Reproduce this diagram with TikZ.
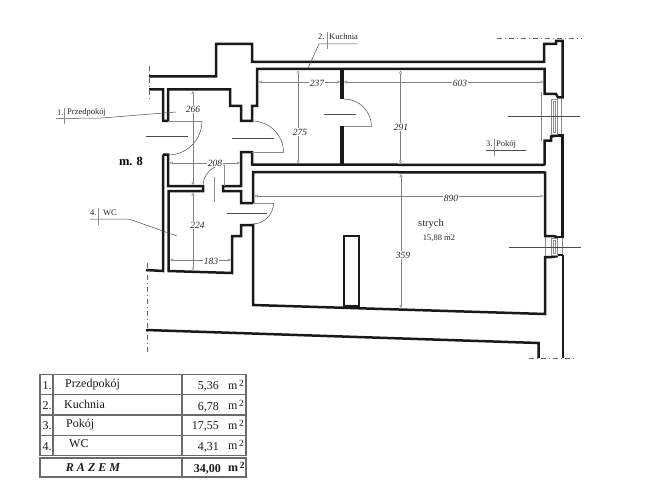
\documentclass[tikz,border=0pt]{standalone}
\usepackage{fontspec}
\setmainfont{Liberation Serif}
\usetikzlibrary{arrows.meta}
\definecolor{dimc}{gray}{0.5}
\definecolor{tabc}{gray}{0.42}
\tikzset{
  wall/.style={line width=2.5pt,line join=miter,black!90},
  thickwall/.style={line width=4.4pt,black!90},
  thin1/.style={line width=0.5pt,black!70},
  faint/.style={line width=0.45pt,black!45},
  dimline/.style={line width=0.45pt,dimc,{Triangle[open,length=3pt,width=3pt,fill=white]}-{Triangle[open,length=3pt,width=3pt,fill=white]}},
  dimlabel/.style={font=\fontsize{9.5}{10}\selectfont\itshape,fill=white,inner sep=0.8pt,text=black!85},
  note/.style={font=\fontsize{8.5}{9}\selectfont,inner sep=0pt,text=black!85},
  cell/.style={font=\fontsize{12}{12}\selectfont,inner sep=0pt,text=black!90},
  grid/.style={line width=1.1pt,tabc},
  axisdash/.style={line width=0.6pt,black!60,dash pattern=on 5pt off 3pt on 1pt off 3pt}
}
\newcommand{\sqm}{m\raisebox{0.55ex}{\fontsize{9.5}{10}\selectfont\,2}}
\begin{document}
\begin{tikzpicture}[x=1pt,y=-1pt]
\useasboundingbox (0,0) rectangle (650,500);
% walls
\draw[wall] (149,76.5) -- (216,76.5) -- (216,44) -- (252,44) -- (252,62) -- (544,62) -- (544,44) -- (556,44) -- (556,41) -- (562.5,41) -- (562.5,97.5) -- (558,97.5) -- (556,94) -- (544.5,94) -- (544.5,69) -- (257,69) -- (257,106) -- (252,106) -- (252,121) -- (241,121) -- (241,106) -- (230,106) -- (230,89.5) -- (168,89.5) -- (168,121) -- (163,121) -- (163,89.5) -- (149,89.5);
\draw[wall] (544.5,165) -- (544.5,140.5) -- (551,140.5) -- (551,136.5) -- (558,135.5);
\draw[wall] (558,135.5) -- (562.5,135.5) -- (562.5,237) -- (557,237);
\draw[wall] (163,154.5) -- (168,154.5) -- (168,186) -- (203,186) -- (203,191) -- (168.5,191) -- (168.5,271) -- (232,273) -- (232,236) -- (241,236) -- (241,225) -- (253,225) -- (253,305) -- (545,314) -- (545,257) -- (552,257) -- (558,256);
\draw[wall] (163,154.5) -- (163,271) -- (146,270);
\draw[wall] (253,203) -- (241,203) -- (241,191) -- (223,191) -- (223,186) -- (241,186) -- (241,152) -- (252,152) -- (252,164.5) -- (544.5,165);
\draw[wall] (253,203) -- (253,172) -- (545,172.5) -- (545,236) -- (553,236) -- (557,237);
\draw[wall] (563,255) -- (563,358);
\draw[wall] (558,255) -- (563,255);
\draw[wall] (146,330) -- (538.5,343) -- (538.5,358);
\draw[thickwall] (342,69) -- (342,99);
\draw[thickwall] (342,126) -- (342,165);
% chimney
\draw[wall,line width=2pt] (343.5,307) -- (343.5,236) -- (359,236) -- (359,308);
\draw[line width=2.5pt,black!90] (343.5,306) -- (359,306.5);
% doors
\draw[thin1] (202,121) arc[start angle=0,end angle=90,radius=34];
\draw[faint] (168,121) -- (202,121);
\draw[thin1] (146,136) -- (188,136);
\draw[thin1] (252,121) arc[start angle=-90,end angle=0,radius=31.5];
\draw[faint] (252,152.5) -- (283.5,152.5);
\draw[thin1] (232,138) -- (274,138);
\draw[thin1] (344,99) arc[start angle=-90,end angle=0,radius=27.5];
\draw[faint] (344,126.5) -- (371.5,126.5);
\draw[thin1] (324,114) -- (356,114);
\draw[thin1] (273.5,203) arc[start angle=0,end angle=90,radius=21];
\draw[faint] (253,203) -- (273.5,203);
\draw[thin1] (227,213) -- (267,213);
\draw[thin1] (203,186) arc[start angle=180,end angle=270,radius=21];
\draw[faint] (224,165) -- (224,186);
\draw[faint] (214,177) -- (214,202);
% windows
\draw[faint] (541.5,92) -- (541.5,141);
\draw[faint] (551,99) rectangle (557,134);
\draw[faint] (553,101) rectangle (555,132);
\draw[faint] (561.5,99) -- (561.5,134);
\draw[thin1] (508,116.5) -- (580,116.5);
\draw[faint] (545,237) -- (545,256);
\draw[faint] (551,238) rectangle (557,255);
\draw[faint] (553,240) rectangle (555,253);
\draw[faint] (562,238) -- (562,254);
\draw[thin1] (509,247) -- (581,247);
% axis marks
\draw[axisdash] (149,66) -- (149,100);
\draw[axisdash] (497,38.5) -- (582,38.5);
\draw[axisdash] (147,263) -- (147,354);
\draw[axisdash] (529,358) -- (574,358);
% dimensions
\foreach \na/\xa/\ya/\nb/\xb/\yb/\txt/\lx/\ly in {%
 a/193/91/b/193/185/266/193/109,%
 c/169.5/163/d/240/163/208/215/163,%
 e/193/192.5/f/193/270.5/224/197.5/225,%
 g/170/260/h/231/260/183/211/261,%
 i/258.5/82/j/340/82/237/317/83,%
 k/298/70.5/l/298/163.5/275/300/132,%
 m/400.5/70.5/n/400.5/163.5/291/401/127,%
 o/344/82/p/543.5/82/603/460/83,%
 q/254.5/196/r/543.5/196/890/451/198,%
 s/401/174/t/401/308/359/403/255}{
  \coordinate (\na) at (\xa,\ya);
  \coordinate (\nb) at (\xb,\yb);
  \draw[dimline] (\na) -- (\nb);
  \node[dimlabel] at (\lx,\ly) {\txt};
}
% leaders
\node[note,anchor=west] (lab1) at (57,113) {1.};
\node[note,anchor=west] (name1) at (67,112) {Przedpokój};
\draw[thin1] (56,118.5) -- (102,118) -- (176,112);
\draw[faint] (64,108) -- (64,124);
\node[note,anchor=west] (lab2) at (318,37) {2.};
\node[note,anchor=west] (name2) at (329,36.5) {Kuchnia};
\draw[thin1] (357,44) -- (319,44) -- (308,68);
\draw[faint] (327,32) -- (327,49);
\node[note,anchor=west] (lab3) at (486,144) {3.};
\node[note,anchor=west] (name3) at (496,144) {Pokój};
\draw[thin1] (486,150) -- (526,150);
\draw[faint] (494,139) -- (494,156);
\node[note,anchor=west] (lab4) at (90,213) {4.};
\node[note,anchor=west] (name4) at (103,213) {WC};
\draw[thin1] (90,219) -- (129,219) -- (177,236);
\draw[faint] (98,208) -- (98,225);
% room texts
\node[font=\fontsize{12.5}{13}\selectfont\bfseries,inner sep=0pt] (m8) at (131,161) {m. 8};
\node[note,font=\fontsize{10.5}{11}\selectfont] (strych) at (431,224) {strych};
\node[note] (area) at (439,238) {15,88 m2};
% table
\draw[grid] (40,374.5) rectangle (246,455.5);
\draw[grid] (40,394.5) -- (246,394.5) (40,415) -- (246,415) (40,435.5) -- (246,435.5);
\draw[grid] (53,374.5) -- (53,455.5);
\draw[grid] (182,374.5) -- (182,455.5);
\draw[grid] (40,458) rectangle (246,477);
\draw[grid] (182,458) -- (182,477);
\node[cell] (n1) at (47,385.5) {1.};
\node[cell] (n2) at (47,405.5) {2.};
\node[cell] (n3) at (47,426) {3.};
\node[cell] (n4) at (47,446.5) {4.};
\node[cell,anchor=west] (r1) at (65,385) {Przedpokój};
\node[cell,anchor=west] (r2) at (64,404.5) {Kuchnia};
\node[cell,anchor=west] (r3) at (66,424.5) {Pokój};
\node[cell,anchor=west] (r4) at (69,443.5) {WC};
\node[cell,anchor=east] (v1) at (219,386) {5,36};
\node[cell,anchor=east] (v2) at (219,407) {6,78};
\node[cell,anchor=east] (v3) at (219,426.5) {17,55};
\node[cell,anchor=east] (v4) at (219,447) {4,31};
\node[cell,anchor=west] (u1) at (228,385) {\sqm};
\node[cell,anchor=west] (u2) at (228,405) {\sqm};
\node[cell,anchor=west] (u3) at (228,425) {\sqm};
\node[cell,anchor=west] (u4) at (228,445) {\sqm};
\node[cell,font=\fontsize{12}{12}\selectfont\bfseries\itshape] (raz) at (93,468) {R A Z E M};
\node[cell,font=\fontsize{12}{12}\selectfont\bfseries,anchor=east] (tot) at (221,469) {34,00};
\node[cell,font=\fontsize{12}{12}\selectfont\bfseries,anchor=west] (um) at (228,467) {\sqm};
\end{tikzpicture}
\end{document}
